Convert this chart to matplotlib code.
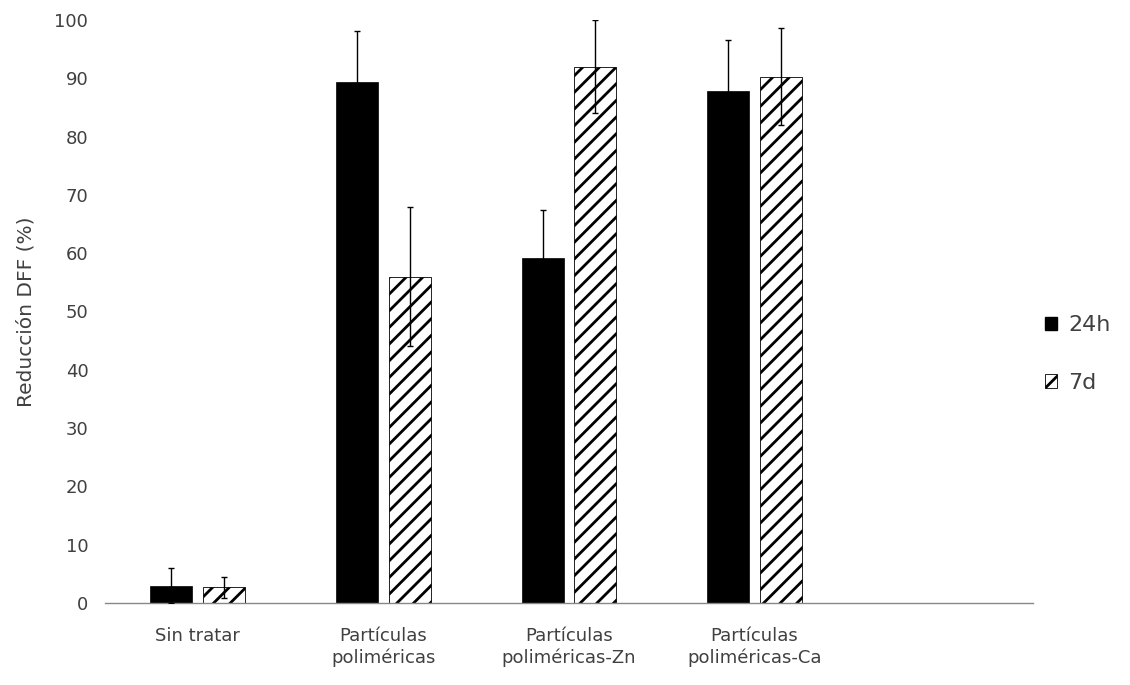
import matplotlib
matplotlib.use("Agg")
import matplotlib.pyplot as plt
import numpy as np
from matplotlib.patches import Patch

categories = ["Sin tratar", "Partículas\npoliméricas", "Partículas\npoliméricas-Zn", "Partículas\npoliméricas-Ca"]
vals_24h = [3.0, 89.3, 59.1, 87.9]
err_24h = [3.0, 8.8, 8.3, 8.7]
vals_7d = [2.7, 56.0, 92.0, 90.3]
err_7d = [1.8, 12.0, 8.0, 8.3]
yticks = [0, 10, 20, 30, 40, 50, 60, 70, 80, 90, 100]
series_labels = ["24h", "7d"]

plt.rcParams['font.family'] = ['DejaVu Sans']
plt.rcParams['hatch.linewidth'] = 2.0

fig = plt.figure(figsize=(11.3, 6.85), dpi=100)
ax = fig.add_axes([105/1130, 1 - 603/685, (1033-105)/1130, (603-20)/685])

x = np.arange(len(categories))
w = 0.226
off = 0.142
txtc = '#404040'

ax.bar(x - off, vals_24h, w, color='black', edgecolor='black', linewidth=0.5, zorder=2)
ax.bar(x + off, vals_7d, w, color='white', edgecolor='black', hatch='//', linewidth=0.6, zorder=2)
ax.errorbar(x - off, vals_24h, yerr=err_24h, fmt='none', ecolor='black', elinewidth=1.0,
            capsize=2.5, capthick=1.0, zorder=3)
ax.errorbar(x + off, vals_7d, yerr=err_7d, fmt='none', ecolor='black', elinewidth=1.0,
            capsize=2.5, capthick=1.0, zorder=3)

ax.set_xlim(-0.5, 4.5)
ax.set_ylim(0, 100)
ax.set_yticks(yticks)
ax.set_yticklabels([str(t) for t in yticks], fontsize=13, color=txtc)
ax.set_xticks(x)
ax.set_xticklabels(categories, fontsize=13, color=txtc, linespacing=1.3)
ax.tick_params(axis='x', length=0, pad=17)
ax.tick_params(axis='y', length=0, pad=12)

for s in ['top', 'right', 'left']:
    ax.spines[s].set_visible(False)
ax.spines['bottom'].set_color('#888888')
ax.spines['bottom'].set_linestyle((0, (1, 1)))
ax.spines['bottom'].set_linewidth(1.0)

ax.set_ylabel("Reducción DFF (%)", fontsize=14.5, color=txtc, labelpad=14)

handles = [Patch(facecolor='black', edgecolor='black'),
           Patch(facecolor='white', edgecolor='black', hatch='//', linewidth=0.6)]
fig.legend(handles, series_labels, loc='center left', bbox_to_anchor=(1025/1130, 1 - 354/685),
           frameon=False, fontsize=16, handlelength=0.55, handleheight=0.55,
           handletextpad=0.5, labelspacing=1.7, labelcolor=txtc)

fig.savefig("out.png", dpi=100)
